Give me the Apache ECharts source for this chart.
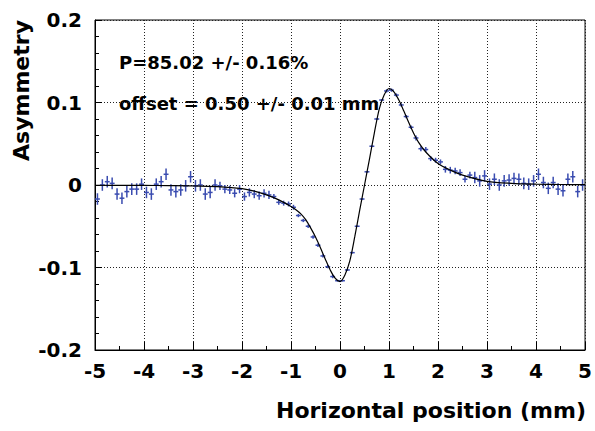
<!DOCTYPE html>
<html>
<head>
<meta charset="utf-8">
<script src="https://cdn.jsdelivr.net/npm/echarts@6/dist/echarts.min.js"></script>
<style>html,body{margin:0;padding:0;background:#fff;}#c{width:595px;height:431px;}</style>
</head>
<body>
<div id="c"></div>
<script>
// bin centres (mm)
var binX = [-4.95,-4.85,-4.75,-4.65,-4.55,-4.45,-4.35,-4.25,-4.15,-4.05,
  -3.95,-3.85,-3.75,-3.65,-3.55,-3.45,-3.35,-3.25,-3.15,-3.05,
  -2.95,-2.85,-2.75,-2.65,-2.55,-2.45,-2.35,-2.25,-2.15,-2.05,
  -1.95,-1.85,-1.75,-1.65,-1.55,-1.45,-1.35,-1.25,-1.15,-1.05,
  -0.95,-0.85,-0.75,-0.65,-0.55,-0.45,-0.35,-0.25,-0.15,-0.05,
  0.05,0.15,0.25,0.35,0.45,0.55,0.65,0.75,0.85,0.95,
  1.05,1.15,1.25,1.35,1.45,1.55,1.65,1.75,1.85,1.95,
  2.05,2.15,2.25,2.35,2.45,2.55,2.65,2.75,2.85,2.95,
  3.05,3.15,3.25,3.35,3.45,3.55,3.65,3.75,3.85,3.95,
  4.05,4.15,4.25,4.35,4.45,4.55,4.65,4.75,4.85,4.95];
var halfBin = 0.05;
// measured asymmetry
var asym = [-0.017,0.000,0.004,0.002,-0.011,-0.016,-0.008,-0.005,-0.005,0.001,
  -0.009,-0.011,0.001,0.004,0.013,-0.006,-0.008,-0.006,-0.001,0.010,
  -0.001,0.000,-0.011,-0.009,0.000,-0.001,-0.005,-0.006,-0.010,-0.005,
  -0.014,-0.009,-0.011,-0.013,-0.010,-0.012,-0.014,-0.021,-0.022,-0.023,
  -0.027,-0.037,-0.043,-0.050,-0.063,-0.073,-0.086,-0.099,-0.111,-0.116,
  -0.116,-0.103,-0.082,-0.050,-0.017,0.016,0.047,0.080,0.103,0.114,
  0.115,0.109,0.097,0.083,0.070,0.057,0.044,0.043,0.032,0.030,
  0.028,0.019,0.018,0.017,0.015,0.007,0.012,0.009,0.005,0.011,
  0.001,0.007,0.000,0.005,0.006,0.008,0.007,0.002,0.001,0.005,
  0.013,0.003,-0.004,0.003,-0.005,-0.007,0.007,0.010,-0.008,0.000];
// statistical errors
var asymErr = [0.007,0.007,0.007,0.007,0.007,0.007,0.007,0.007,0.007,0.007,
  0.007,0.007,0.007,0.007,0.007,0.007,0.007,0.007,0.007,0.007,
  0.007,0.007,0.007,0.007,0.007,0.005,0.005,0.005,0.005,0.005,
  0.005,0.005,0.005,0.005,0.005,0.005,0.003,0.003,0.003,0.003,
  0.003,0.002,0.002,0.002,0.002,0.002,0.002,0.002,0.002,0.001,
  0.001,0.001,0.001,0.001,0.001,0.001,0.001,0.001,0.001,0.002,
  0.002,0.002,0.002,0.002,0.002,0.003,0.003,0.003,0.003,0.003,
  0.003,0.004,0.004,0.004,0.004,0.004,0.004,0.007,0.007,0.007,
  0.007,0.007,0.007,0.007,0.007,0.007,0.007,0.007,0.007,0.007,
  0.007,0.007,0.007,0.007,0.007,0.007,0.007,0.007,0.007,0.007];
// fit curve
var fitX = [-5,-4.5,-4,-3.5,-3,-2.5,-2,-1.75,-1.5,-1.25,
  -1,-0.9,-0.8,-0.7,-0.6,-0.5,-0.4,-0.3,-0.2,-0.1,
  0,0.1,0.2,0.3,0.4,0.5,0.6,0.7,0.8,0.9,
  1.0,1.1,1.2,1.3,1.4,1.5,1.6,1.75,2,2.25,2.5,3,3.5,4,4.5,5];
var fitY = [-0.0003,-0.0004,-0.0005,-0.0007,-0.001,-0.002,-0.0045,-0.0075,-0.012,-0.018,
  -0.026,-0.030,-0.035,-0.042,-0.052,-0.063,-0.076,-0.090,-0.103,-0.113,
  -0.117,-0.109,-0.092,-0.063,-0.031,0.0,0.031,0.063,0.092,0.109,
  0.117,0.113,0.103,0.090,0.076,0.063,0.052,0.040,0.026,0.018,0.012,0.0045,0.002,0.001,0.0006,0.0004];
var xTitle = 'Horizontal position (mm)';
var yTitle = 'Asymmetry';
var note1 = 'P=85.02 +/- 0.16%';
var note2 = 'offset = 0.50 +/- 0.01 mm';

var FONT = 'DejaVu Sans';
var blue = '#3a4cb0';
var chart = echarts.init(document.getElementById('c'), null, {renderer: 'svg'});
var pts = binX.map(function (x, i) { return [x, asym[i], asymErr[i]]; });
var axisCommon = {
  axisLine: {show: true, onZero: false, lineStyle: {color: '#000', width: 1}},
  axisTick: {show: true, inside: true, length: 8, lineStyle: {color: '#000'}},
  minorTick: {show: true, length: 4, lineStyle: {color: '#000'}},
  splitLine: {show: true, lineStyle: {color: '#222', type: [1, 2], width: 1}},
  axisLabel: {fontFamily: FONT, fontWeight: 'bold', fontSize: 20, color: '#000'}
};
chart.setOption({
  animation: false,
  backgroundColor: '#fff',
  grid: {left: 95, right: 7, top: 20, bottom: 81, show: true, borderColor: '#000', borderWidth: 1},
  xAxis: Object.assign({}, axisCommon, {
    type: 'value', min: -5, max: 5, interval: 1,
    minorTick: Object.assign({}, axisCommon.minorTick, {splitNumber: 2}),
    axisLabel: Object.assign({}, axisCommon.axisLabel, {margin: 11})
  }),
  yAxis: Object.assign({}, axisCommon, {
    type: 'value', min: -0.2, max: 0.2, interval: 0.1,
    axisTick: Object.assign({}, axisCommon.axisTick, {length: 7}),
    minorTick: Object.assign({}, axisCommon.minorTick, {splitNumber: 5}),
    axisLabel: Object.assign({}, axisCommon.axisLabel, {margin: 13})
  }),
  graphic: [
    {type: 'text', x: 586, y: 410, style: {text: xTitle, font: 'bold 22px "DejaVu Sans"', fill: '#000', align: 'right', verticalAlign: 'middle'}},
    {type: 'text', x: 21, y: 20, rotation: Math.PI / 2, style: {text: yTitle, font: 'bold 22px "DejaVu Sans"', fill: '#000', align: 'right', verticalAlign: 'middle'}},
    {type: 'text', x: 119, y: 62, style: {text: note1, font: 'bold 18px "DejaVu Sans"', fill: '#000', align: 'left', verticalAlign: 'middle'}},
    {type: 'text', x: 119, y: 103, style: {text: note2, font: 'bold 18px "DejaVu Sans"', fill: '#000', align: 'left', verticalAlign: 'middle'}}
  ],
  series: [
    {
      type: 'custom',
      data: pts,
      encode: {x: 0, y: 1},
      z: 3,
      renderItem: function (params, api) {
        var x = api.value(0), y = api.value(1), e = api.value(2);
        var l = api.coord([x - halfBin, y]), r = api.coord([x + halfBin, y]);
        var t = api.coord([x, y + e]), b = api.coord([x, y - e]);
        var st = {stroke: blue, lineWidth: 1.5};
        return {type: 'group', children: [
          {type: 'line', shape: {x1: l[0], y1: l[1], x2: r[0], y2: r[1]}, style: st},
          {type: 'line', shape: {x1: t[0], y1: t[1], x2: b[0], y2: b[1]}, style: st}
        ]};
      }
    },
    {
      type: 'line',
      data: fitX.map(function (x, i) { return [x, fitY[i]]; }),
      showSymbol: false,
      smooth: 0.3,
      z: 4,
      lineStyle: {color: '#000', width: 1.2}
    }
  ]
});
</script>
</body>
</html>
